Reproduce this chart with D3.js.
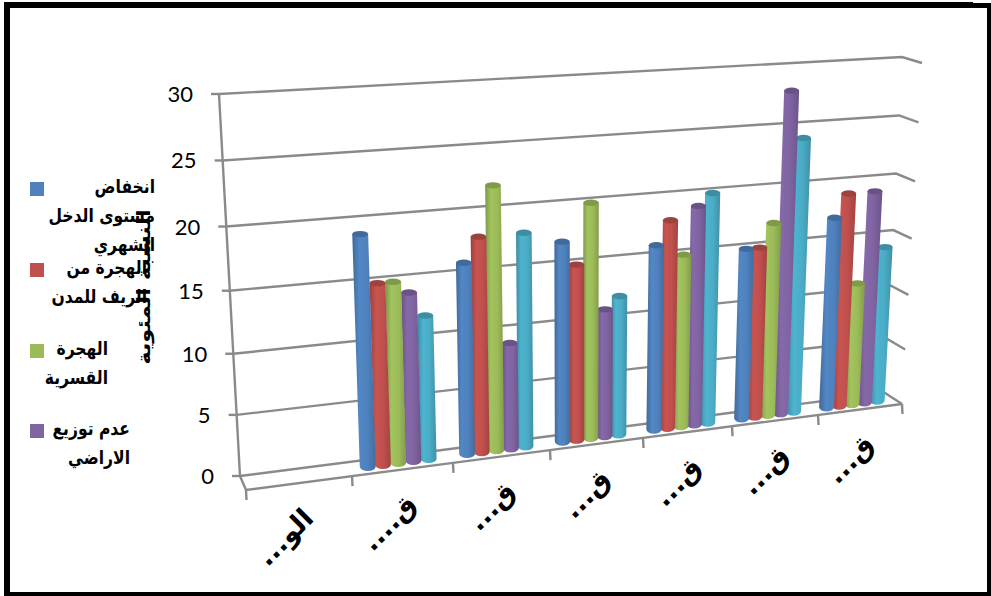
<!DOCTYPE html>
<html lang="ar">
<head>
<meta charset="utf-8">
<script src="https://cdn.jsdelivr.net/npm/d3@7"></script>
<style>
  html, body { margin: 0; padding: 0; background: #fff; }
  svg { display: block; }
  .legend text, .title, .cat { font-family: "DejaVu Sans", sans-serif; font-weight: bold; fill: #000; }
</style>
</head>
<body>
<div id="chart"></div>
<script>
// values
const categories = ['الو...', 'ق....', 'ق...', 'ق...', 'ق...', 'ق...', 'ق...'];
const yTicks = [0, 5, 10, 15, 20, 25, 30];
const seriesNames = [
    ['انخفاض', 'مستوى الدخل', 'الشهري'],
    ['الهجرة من', 'الريف للمدن'],
    ['الهجرة', 'القسرية'],
    ['عدم توزيع', 'الاراضي']
];
const axisTitle = 'النسبة المئوية';
const income = [null, 19, 16, 17, 16, 15, 17];
const ruralMigration = [null, 15, 18, 15, 18, 15, 19];
const forcedMigration = [null, 15, 22, 20, 15, 17, 11];
const landDistribution = [null, 14, 9, 11, 19, 28, 19];
const fifthSeries = [null, 12, 18, 12, 20, 24, 14];

const series = [income, ruralMigration, forcedMigration, landDistribution, fifthSeries];
const colors = ['#4F81BD', '#C0504D', '#9BBB59', '#8064A2', '#4BACC6'];

const width = 991;
const height = 596;

const svg = d3.select('#chart').append('svg').attr('width', width).attr('height', height);

// the 3d box: corners of the walls at value 0 and value 30
const box = {
    backLeft: [[240, 476], [219, 94]],
    backRight: [[885, 393], [902, 57]],
    frontLeft: [[246, 490], [228, 103]],
    frontRight: [[902, 404], [922, 63]]
};
// perspective squeezes both axes a little
const vScale = d3.scaleLinear().domain(yTicks).range([0, 0.16, 0.32, 0.485, 0.653, 0.826, 1]);
const uScale = d3.scaleLinear().domain(d3.range(categories.length + 1))
    .range([0, 0.1616, 0.3155, 0.4634, 0.6052, 0.7409, 0.872, 1]);

const lerp = (a, b, t) => [a[0] + (b[0] - a[0]) * t, a[1] + (b[1] - a[1]) * t];

// u = category position, v = value, w = depth (0 back, 1 front)
function project(u, v, w) {
    const t = vScale(v);
    const left = lerp(lerp(box.backLeft[0], box.backLeft[1], t), lerp(box.frontLeft[0], box.frontLeft[1], t), w);
    const right = lerp(lerp(box.backRight[0], box.backRight[1], t), lerp(box.frontRight[0], box.frontRight[1], t), w);
    return lerp(left, right, uScale(u));
}

const defs = svg.append('defs');
colors.forEach((c, i) => {
    const base = d3.color(c);
    const g = defs.append('linearGradient').attr('id', 'bar' + i);
    [[0, base.darker(0.6)], [0.3, base.brighter(0.12)], [0.65, base], [1, base.darker(0.5)]].forEach(s => {
        g.append('stop').attr('offset', s[0]).attr('stop-color', s[1]);
    });
});
// the reference is a soft, scaled up screenshot
defs.append('filter').attr('id', 'soft').append('feGaussianBlur').attr('stdDeviation', 0.45);

const line = d3.line();
const gridColor = '#8a8a8a';

// walls
const grid = svg.append('g').attr('fill', 'none').attr('stroke', gridColor).attr('stroke-width', 2.4).attr('filter', 'url(#soft)');
yTicks.forEach(v => {
    grid.append('path').attr('d', line([project(0, v, 0), project(7, v, 0), project(7, v, 1)]));
    const p = project(0, v, 0);
    grid.append('path').attr('d', line([[p[0] - 8, p[1]], p]));
});
grid.append('path').attr('d', line([project(0, 0, 0), project(0, 30, 0)]));
grid.append('path').attr('d', line([project(0, 0, 0), project(0, 0, 1), project(7, 0, 1)]));
d3.range(categories.length + 1).forEach(i => {
    const p = project(i, 0, 1);
    grid.append('path').attr('d', line([p, [p[0] + 0.5, p[1] + 10]]));
});

// bars
const seriesStep = 0.152;
const bars = svg.append('g').attr('filter', 'url(#soft)');
categories.forEach((c, i) => {
    d3.range(series.length).reverse().forEach(s => {
        const value = series[s][i];
        if (value === null) return;
        const u = i + 0.5 + (s - 2) * seriesStep;
        const top = project(u, value, 0.5);
        const bottom = project(u, 0, 0.5);
        const rx = 4.9 + (project(u + seriesStep, 0, 0.5)[0] - bottom[0]) * 0.2;
        const ryTop = 3.2;
        const ryBottom = 4.2;
        bars.append('path')
            .attr('d', `M${top[0] - rx},${top[1]} L${bottom[0] - rx},${bottom[1]} A${rx},${ryBottom} 0 0 0 ${bottom[0] + rx},${bottom[1]} L${top[0] + rx},${top[1]} Z`)
            .attr('fill', `url(#bar${s})`);
        bars.append('ellipse')
            .attr('cx', top[0]).attr('cy', top[1]).attr('rx', rx).attr('ry', ryTop)
            .attr('fill', d3.color(colors[s]).darker(0.55));
    });
});

// value labels
svg.append('g').selectAll('text').data(yTicks).join('text')
    .attr('x', d => project(0, d, 0)[0] - 26)
    .attr('y', d => project(0, d, 0)[1] + 8)
    .attr('text-anchor', 'end')
    .attr('font-family', 'Lato, sans-serif')
    .attr('font-size', 22)
    .attr('fill', '#000')
    .text(d => d);

// category labels
svg.append('g').selectAll('text').data(categories).join('text')
    .attr('class', 'cat')
    .attr('direction', 'rtl')
    .attr('font-size', 27)
    .attr('transform', (d, i) => {
        const p = project(i + 0.5, 0, 1);
        return `translate(${p[0] + 16},${p[1] + 37}) rotate(-45)`;
    })
    .text(d => d);

// axis title
svg.append('text').attr('class', 'title')
    .attr('transform', 'translate(150,287) rotate(-90) scale(1.25,1)')
    .attr('text-anchor', 'middle')
    .attr('direction', 'rtl')
    .attr('font-size', 18)
    .text(axisTitle);

// legend
const legendY = [182, 263, 344, 424];
const legendRight = [155, 147, 108, 130];
const legend = svg.append('g').attr('class', 'legend');
seriesNames.forEach((lines, i) => {
    legend.append('rect').attr('x', 30).attr('y', legendY[i]).attr('width', 14).attr('height', 14).attr('fill', colors[i]);
    lines.forEach((t, j) => {
        legend.append('text')
            .attr('transform', `translate(${legendRight[i]},${legendY[i] + 11 + j * 29}) scale(0.82,1)`)
            .attr('text-anchor', 'start')
            .attr('direction', 'rtl')
            .attr('font-size', 19)
            .text(t);
    });
});

// black frame around the picture
const frame = svg.append('g').attr('fill', '#000');
frame.append('rect').attr('x', 4).attr('y', 3).attr('width', 6).attr('height', 593);
frame.append('rect').attr('x', 5).attr('y', 3).attr('width', 986).attr('height', 5);
frame.append('rect').attr('x', 4).attr('y', 2).attr('width', 969).attr('height', 1);
frame.append('rect').attr('x', 987).attr('y', 3).attr('width', 4).attr('height', 593);
frame.append('rect').attr('x', 4).attr('y', 592).attr('width', 987).attr('height', 4);
</script>
</body>
</html>
